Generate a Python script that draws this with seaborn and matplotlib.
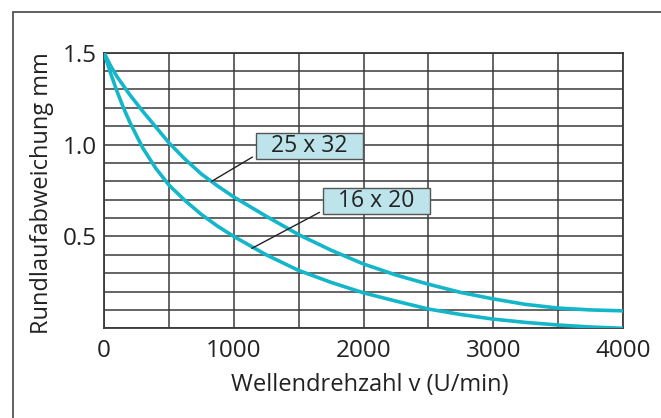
import matplotlib
matplotlib.use("Agg")
import matplotlib.pyplot as plt
from matplotlib.lines import Line2D
from matplotlib.patches import Rectangle
import numpy as np
import pandas as pd
import seaborn as sns

# Curve readings (speed in U/min, runout in mm)
speed = [0, 50, 100, 150, 200, 300, 400, 500, 625, 750, 875, 1000, 1250, 1500,
         1750, 2000, 2250, 2500, 2750, 3000, 3250, 3500, 3750, 4000]
runout_25x32 = [1.5, 1.43, 1.37, 1.32, 1.27, 1.18, 1.095, 1.01, 0.92, 0.84, 0.775, 0.715,
                0.61, 0.51, 0.425, 0.35, 0.29, 0.24, 0.195, 0.16, 0.13, 0.11, 0.10, 0.095]
runout_16x20 = [1.5, 1.39, 1.29, 1.20, 1.12, 0.98, 0.87, 0.78, 0.695, 0.62, 0.556, 0.50,
                0.40, 0.315, 0.25, 0.193, 0.148, 0.105, 0.075, 0.05, 0.032, 0.018, 0.007, 0.0]

x_ticks = np.arange(0, 4001, 500)
y_ticks = np.arange(0, 1.51, 0.1)

sns.set_theme(style="white")
plt.rcParams["font.family"] = ["Open Sans", "DejaVu Sans"]

TEXT = "#222222"
GRID = "#3a3a3a"
CURVE = "#14b6c9"
BOX = "#bde4ea"

df = pd.concat([
    pd.DataFrame({"speed": speed, "runout": runout_25x32, "size": "25 x 32"}),
    pd.DataFrame({"speed": speed, "runout": runout_16x20, "size": "16 x 20"}),
])

fig = plt.figure(figsize=(6.61, 4.18), dpi=100)
ax = fig.add_axes([104 / 661, 1 - 328.3 / 418, 519 / 661, 275.6 / 418])

sns.lineplot(data=df, x="speed", y="runout", units="size", estimator=None,
             color=CURVE, linewidth=2.6, ax=ax, sort=False, zorder=3)

ax.set_xlim(0, 4000)
ax.set_ylim(0, 1.5)

# Grid
ax.set_xticks(x_ticks)
ax.set_xticklabels([str(int(v)) if v % 1000 == 0 else "" for v in x_ticks])
ax.set_yticks(y_ticks)
ax.set_yticklabels(["0.5" if abs(v - 0.5) < 1e-6 else "1.0" if abs(v - 1.0) < 1e-6
                    else "1.5" if abs(v - 1.5) < 1e-6 else "" for v in y_ticks])
ax.grid(True, color=GRID, linewidth=1.1)
ax.tick_params(length=0, labelsize=17.5, colors=TEXT)
ax.tick_params(axis="x", pad=8)
ax.tick_params(axis="y", pad=5)
for s in ax.spines.values():
    s.set_color(GRID)
    s.set_linewidth(1.3)

# Axis labels
ax.set_xlabel("Wellendrehzahl v (U/min)", fontsize=17, color=TEXT)
ax.set_ylabel("Rundlaufabweichung mm", fontsize=17, color=TEXT)
ax.xaxis.set_label_coords(0.512, -0.206)
ax.xaxis.label.set_va("center")
ax.yaxis.set_label_coords(-0.12, 0.49)
ax.yaxis.label.set_va("center")

# Labels with leader lines
labels = [
    ("25 x 32", (1169, 0.922), (1998, 1.062), (830, 0.80)),
    ("16 x 20", (1686, 0.621), (2513, 0.762), (1139, 0.435)),
]
for text, (x0, y0), (x1, y1), target in labels:
    ax.add_patch(Rectangle((x0, y0), x1 - x0, y1 - y0, facecolor=BOX,
                           edgecolor="#555555", linewidth=1.0, zorder=5))
    ax.text((x0 + x1) / 2, (y0 + y1) / 2, text, ha="center", va="center",
            fontsize=16.5, color=TEXT, zorder=6)
    ax.annotate("", xy=target, xytext=(x0 - 25, y0 + 0.01),
                arrowprops=dict(arrowstyle="-", color="#222222", lw=1.0,
                                shrinkA=0, shrinkB=0), zorder=4)

# Outer frame (top and left edges)
fig.add_artist(Line2D([13 / 661, 1], [1 - 12 / 418] * 2, color="#555555", lw=1.3))
fig.add_artist(Line2D([13 / 661] * 2, [0, 1 - 12 / 418], color="#555555", lw=1.3))

fig.savefig("out.png", dpi=100)
